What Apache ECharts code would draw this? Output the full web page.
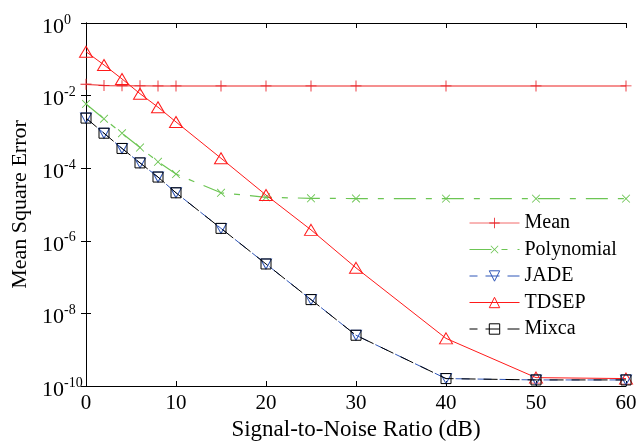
<!DOCTYPE html>
<html><head><meta charset="utf-8">
<script src="https://cdn.jsdelivr.net/npm/echarts@6/dist/echarts.min.js"></script>
<style>html,body{margin:0;padding:0;background:#fff}#c{width:640px;height:442px}</style>
</head><body><div id="c"></div>
<script>
const snr = [0, 2, 4, 6, 8, 10, 15, 20, 25, 30, 40, 50, 60];
const meanMSE = [0.0205, 0.019, 0.0187, 0.0186, 0.0185, 0.0185, 0.0185, 0.0185, 0.0185, 0.0185, 0.0185, 0.0185, 0.0185];
const polyMSE = [0.0059, 0.0023, 9.2e-4, 3.7e-4, 1.5e-4, 6.9e-5, 2.1e-5, 1.58e-5, 1.48e-5, 1.46e-5, 1.45e-5, 1.45e-5, 1.45e-5];
const jadeMSE = [0.0024, 9.2e-4, 3.5e-4, 1.4e-4, 5.7e-5, 2.1e-5, 2.2e-6, 2.3e-7, 2.4e-8, 2.5e-9, 1.6e-10, 1.47e-10, 1.47e-10];
const tdsepMSE = [0.162, 0.07, 0.0288, 0.0113, 0.0048, 0.00188, 1.88e-4, 1.82e-5, 2.0e-6, 1.8e-7, 2.05e-9, 1.7e-10, 1.6e-10];
const mixcaMSE = [0.0024, 9.2e-4, 3.5e-4, 1.4e-4, 5.7e-5, 2.1e-5, 2.2e-6, 2.3e-7, 2.4e-8, 2.5e-9, 1.6e-10, 1.47e-10, 1.47e-10];
const seriesNames = ['Mean', 'Polynomial', 'JADE', 'TDSEP', 'Mixca'];

const F = 'Liberation Serif, Times New Roman, serif';
const pair = a => snr.map((x, i) => [x, a[i]]);
const plusPath = 'path://M4.6,0H5.4V4.6H10V5.4H5.4V10H4.6V5.4H0V4.6H4.6Z';

const chart = echarts.init(document.getElementById('c'));
chart.setOption({
  animation: false,
  backgroundColor: '#fff',
  textStyle: { fontFamily: F },
  grid: { left: 86, right: 14, top: 23, bottom: 56, outerBoundsMode: 'none', containLabel: false },
  legend: {
    orient: 'vertical', left: 464, top: 208,
    itemWidth: 50, itemHeight: 13, itemGap: 6.5,
    itemStyle: { borderWidth: 1 },
    lineStyle: { width: 1 },
    textStyle: { fontFamily: F, fontSize: 20, color: '#000', lineHeight: 20 },
    data: seriesNames
  },
  xAxis: [{
    type: 'value', min: 0, max: 60, interval: 10,
    name: 'Signal-to-Noise Ratio (dB)', nameLocation: 'middle', nameGap: 31,
    nameTextStyle: { fontFamily: F, fontSize: 23, color: '#000' },
    axisLine: { lineStyle: { color: '#000', width: 1 } },
    axisTick: { inside: true, length: 5, lineStyle: { color: '#000' } },
    axisLabel: { fontFamily: F, fontSize: 21, color: '#000', margin: 7 },
    splitLine: { show: false }
  }, {
    type: 'value', min: 0, max: 60, interval: 10, position: 'top',
    axisLine: { lineStyle: { color: '#000', width: 1 } },
    axisTick: { inside: true, length: 5, lineStyle: { color: '#000' } },
    axisLabel: { show: false }, splitLine: { show: false }
  }],
  yAxis: [{
    type: 'log', logBase: 10, min: 1e-10, max: 1, interval: 2,
    name: 'Mean Square Error', nameLocation: 'middle', nameGap: 55,
    nameTextStyle: { fontFamily: F, fontSize: 22, color: '#000' },
    axisLine: { lineStyle: { color: '#000', width: 1 } },
    axisTick: { inside: true, length: 5, lineStyle: { color: '#000' } },
    axisLabel: {
      fontFamily: F, color: '#000', margin: 44, align: 'left', padding: [8, 0, 0, 0],
      formatter: v => '{b|10}{s|' + Math.round(Math.log10(v)) + '}',
      rich: { b: { fontFamily: F, fontSize: 22, color: '#000' },
              s: { fontFamily: F, fontSize: 14, color: '#000', verticalAlign: 'top', padding: [0, 0, 14, 0] } }
    },
    splitLine: { show: false }
  }, {
    type: 'log', logBase: 10, min: 1e-10, max: 1, interval: 2, position: 'right',
    axisLine: { lineStyle: { color: '#000', width: 1 } },
    axisTick: { inside: true, length: 5, lineStyle: { color: '#000' } },
    axisLabel: { show: false }, splitLine: { show: false }
  }],
  series: [
    { name: 'Mean', type: 'line', data: pair(meanMSE), symbol: plusPath, symbolSize: 11,
      itemStyle: { color: '#e8242a' }, lineStyle: { color: '#f26b6b', width: 1.5 }, z: 2 },
    { name: 'Polynomial', type: 'line', data: pair(polyMSE), symbol: plusPath, symbolRotate: 45, symbolSize: 11,
      itemStyle: { color: '#6cc553' }, lineStyle: { color: '#6cc553', width: 1.2, type: [22, 10, 6, 10] }, z: 2 },
    { name: 'JADE', type: 'line', data: pair(jadeMSE), symbol: 'triangle', symbolRotate: 180, symbolSize: [11, 10],
      itemStyle: { color: 'rgba(255,255,255,0)', borderColor: '#2f56b8', borderWidth: 1 },
      lineStyle: { color: '#2f56b8', width: 1, type: [14, 8], dashOffset: 6 }, z: 3 },
    { name: 'TDSEP', type: 'line', data: pair(tdsepMSE), symbol: 'triangle', symbolSize: [13, 11],
      itemStyle: { color: 'rgba(255,255,255,0)', borderColor: '#ff1a1a', borderWidth: 1 },
      lineStyle: { color: '#ff1a1a', width: 1 }, z: 2 },
    { name: 'Mixca', type: 'line', data: pair(mixcaMSE), symbol: 'rect', symbolSize: 10,
      itemStyle: { color: 'rgba(255,255,255,0)', borderColor: '#000', borderWidth: 1 },
      lineStyle: { color: '#000', width: 1, type: [14, 8] }, z: 4 }
  ]
});
</script></body></html>
